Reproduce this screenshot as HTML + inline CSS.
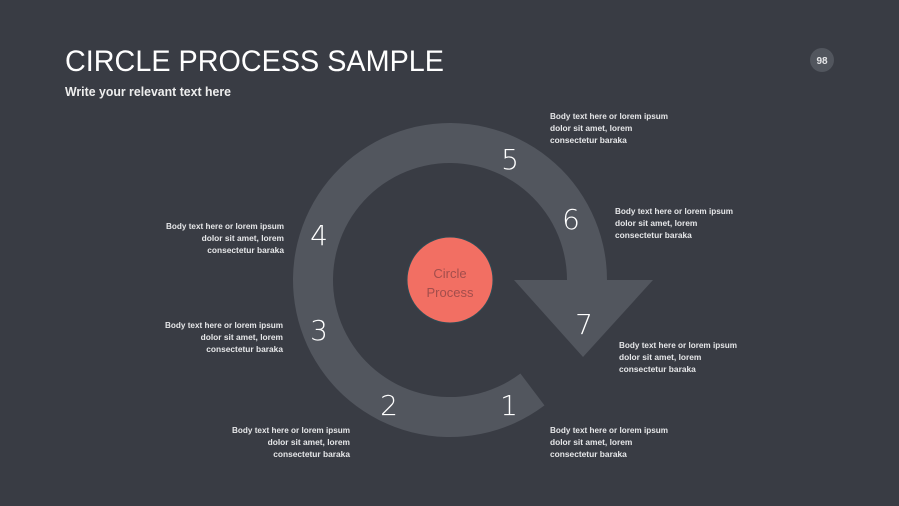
<!DOCTYPE html>
<html><head><meta charset="utf-8"><style>
html,body{margin:0;padding:0;background:#393c44;}
svg{display:block;}
.b{font-family:"Liberation Sans",sans-serif;font-size:8.4px;font-weight:bold;fill:#e6e7e9;}
.n{font-family:"DejaVu Sans","Liberation Sans",sans-serif;font-size:28px;font-weight:300;fill:#ffffff;text-anchor:middle;}
</style></head><body>
<svg width="899" height="506" viewBox="0 0 899 506" xmlns="http://www.w3.org/2000/svg">
<rect width="899" height="506" fill="#393c44"/>
<text x="65" y="71" font-family="Liberation Sans, sans-serif" font-size="30" fill="#ffffff" textLength="379" lengthAdjust="spacingAndGlyphs">CIRCLE PROCESS SAMPLE</text>
<text x="65" y="96" font-family="Liberation Sans, sans-serif" font-size="13" font-weight="bold" fill="#eeeeee" textLength="166" lengthAdjust="spacingAndGlyphs">Write your relevant text here</text>
<circle cx="822" cy="60" r="12" fill="#52565e"/>
<text x="822" y="64" text-anchor="middle" font-family="Liberation Sans, sans-serif" font-size="10" font-weight="bold" fill="#e6e7e9">98</text>
<path d="M544.5,405.4 A157,157 0 1 1 607,280 L653,280 L583,357 L514,280 L567,280 A117,117 0 1 0 520.4,373.5 Z" fill="#52565e"/>
<circle cx="450" cy="280" r="43" fill="#f26f63" stroke="#2d4b55" stroke-width="1"/>
<text x="450" y="278" text-anchor="middle" font-family="Liberation Sans, sans-serif" font-size="13" fill="#a34e4c">Circle</text>
<text x="450" y="297" text-anchor="middle" font-family="Liberation Sans, sans-serif" font-size="13" fill="#a34e4c">Process</text>
<text class="n" x="510" y="169">5</text>
<text class="n" x="571" y="229">6</text>
<text class="n" x="319" y="245">4</text>
<text class="n" x="319" y="340">3</text>
<text class="n" x="584" y="334">7</text>
<text class="n" x="389" y="415">2</text>
<text class="n" x="509" y="415">1</text>
<g class="b">
<text x="550" y="119" textLength="118" lengthAdjust="spacingAndGlyphs">Body text here or lorem ipsum</text><text x="550" y="131">dolor sit amet, lorem</text><text x="550" y="143">consectetur baraka</text>
<text x="615" y="214" textLength="118" lengthAdjust="spacingAndGlyphs">Body text here or lorem ipsum</text><text x="615" y="226">dolor sit amet, lorem</text><text x="615" y="238">consectetur baraka</text>
<text x="619" y="348" textLength="118" lengthAdjust="spacingAndGlyphs">Body text here or lorem ipsum</text><text x="619" y="360">dolor sit amet, lorem</text><text x="619" y="372">consectetur baraka</text>
<text x="550" y="433" textLength="118" lengthAdjust="spacingAndGlyphs">Body text here or lorem ipsum</text><text x="550" y="445">dolor sit amet, lorem</text><text x="550" y="457">consectetur baraka</text>
</g>
<g class="b" text-anchor="end">
<text x="284" y="229" textLength="118" lengthAdjust="spacingAndGlyphs">Body text here or lorem ipsum</text><text x="284" y="241">dolor sit amet, lorem</text><text x="284" y="253">consectetur baraka</text>
<text x="283" y="328" textLength="118" lengthAdjust="spacingAndGlyphs">Body text here or lorem ipsum</text><text x="283" y="340">dolor sit amet, lorem</text><text x="283" y="352">consectetur baraka</text>
<text x="350" y="433" textLength="118" lengthAdjust="spacingAndGlyphs">Body text here or lorem ipsum</text><text x="350" y="445">dolor sit amet, lorem</text><text x="350" y="457">consectetur baraka</text>
</g>
</svg>
</body></html>
